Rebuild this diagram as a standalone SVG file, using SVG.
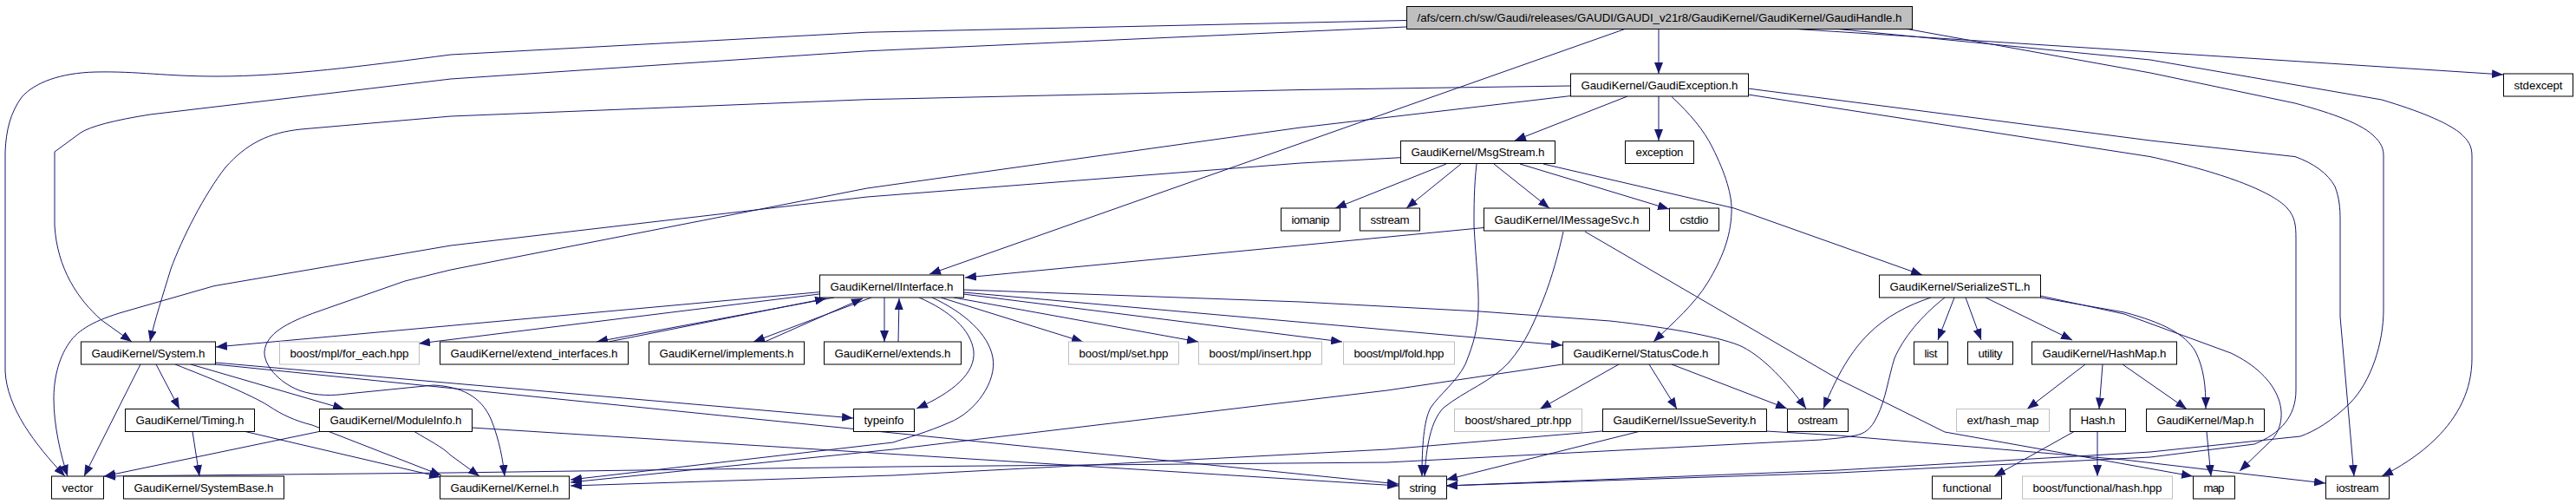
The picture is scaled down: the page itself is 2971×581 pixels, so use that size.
<svg xmlns="http://www.w3.org/2000/svg" width="2971" height="581" viewBox="0 0 2971 581">
<defs>
<marker id="a" markerWidth="13" markerHeight="10" refX="13" refY="5" orient="auto" markerUnits="userSpaceOnUse" viewBox="0 0 13 10"><path d="M0,0 L13,5 L0,10 z" fill="#191970"/></marker>
<style>
.e path{fill:none;stroke:#191970;stroke-width:1;marker-end:url(#a)}
.n rect{fill:#fff;stroke:#000;stroke-width:1}
.n.x rect{stroke:#bfbfbf}
.n.r rect{fill:#bfbfbf}
.n text{font-family:"Liberation Sans",Arial,sans-serif;font-size:13.3px;fill:#000;text-anchor:middle}
</style>
</defs>
<rect width="2971" height="581" fill="#fff"/>
<g class="e" id="edges">
<path d="M1622,23.5 L1000,37.2 L520,63 C420,76 330,88 250,88 C190,88 160,82 110,83 C70,84 40,95 25,112 C12,130 7,150 6,175 L6,428 C8,470 40,512 75,549"/>
<path d="M1622,31 L1000,58.8 L520,91 L173,132 Q110,142 93,153 L63,175 L63,260 C66,310 90,345 117,369 L152,394"/>
<path d="M1874,33.5 L1072,316"/>
<path d="M1913,33.5 L1913,85"/>
<path d="M2072,33.5 L2887,86"/>
<path d="M2120,33.5 L2480,69 L2747,115 C2790,128 2820,140 2837,153 C2847,162 2851,168 2851,180 L2851,413 C2851,450 2835,480 2810,505 C2790,525 2765,540 2747,549"/>
<path d="M2200,33.5 L2480,84 L2647,119 C2680,128 2720,140 2737,156 C2747,165 2749,172 2749,180 L2749,357 C2749,395 2735,440 2710,465 C2690,485 2670,497 2653,503 L2480,521 L2120,542 L1668,560"/>
<path d="M1811,99 L1500,103.5 L1000,114.7 L520,134 L347,149 C310,153 285,165 260,193 C235,225 210,275 197,310 C188,340 178,370 173,394"/>
<path d="M1811,110.6 L1500,147 L1000,217 L520,311 L467,324 L367,359 C330,372 307,385 305,405 C304,420 320,440 345,450 C365,457 385,456 400,454 L500,444 C540,446 558,463 567,485 C576,508 580,530 582,549"/>
<path d="M1877,111 L1747,162"/>
<path d="M1913,111 L1913,162"/>
<path d="M1928,111.5 C1950,132 1965,150 1975,170 C1990,200 1998,225 1997,245 C1996,275 1985,300 1970,325 C1955,350 1930,372 1907,394"/>
<path d="M2016,102 L2480,162 L2647,180.6 C2668,188 2685,200 2693,215 C2698,228 2699,240 2699,253 L2699,365 L2715,549"/>
<path d="M2016,109 L2480,180.6 C2560,198 2620,220 2638,240 C2647,250 2648,260 2648,275 L2648,450 C2648,480 2630,500 2600,512 L2480,527 L2120,545 L1668,560"/>
<path d="M1615,181.7 L1500,188 L1000,227 L520,283 L247,329.6 L143,359.4 C110,369 90,380 80,395 C66,415 62,440 62,460 C62,490 70,525 78,549"/>
<path d="M1668,189 L1540,240"/>
<path d="M1685,189 L1622,240"/>
<path d="M1723,189 L1787,240"/>
<path d="M1753,189 L1925,241"/>
<path d="M1780,189 L2000,240 L2217,317"/>
<path d="M1703,189 C1700,215 1700,240 1700,260 C1702,300 1706,330 1705,357 C1704,380 1700,395 1690,420 C1680,440 1660,455 1650,470 C1642,485 1640,515 1640,549"/>
<path d="M1711,262.5 L1113,320"/>
<path d="M1803,267 C1798,290 1790,320 1780,345 C1770,370 1760,395 1740,418 C1720,440 1690,450 1665,470 C1650,485 1645,515 1643,549"/>
<path d="M1828,267 L2120,437 L2243,498 L2529,549"/>
<path d="M945,336.7 L249,400"/>
<path d="M945,339 L483,396"/>
<path d="M962,343 L688,394"/>
<path d="M702,394 L953,344"/>
<path d="M1005,343 L869,394"/>
<path d="M882,394 L995,344"/>
<path d="M1020,343 L1020,394"/>
<path d="M1036,394 L1037,344"/>
<path d="M1060,343 C1095,358 1120,380 1123,405 C1125,430 1100,452 1057,471"/>
<path d="M1075,343 C1112,360 1140,385 1145,412 C1150,440 1125,475 1095,487 C1070,498 1045,505 1030,510 L658,553"/>
<path d="M1085,343 L1249,394"/>
<path d="M1100,343 L1382,394"/>
<path d="M1111,339 L1548,394"/>
<path d="M1111,337 L1802,398"/>
<path d="M1111,334 L1500,348 L1707,359 L1857,370 C1930,378 1990,390 2010,400 C2035,413 2060,440 2083,471"/>
<path d="M2227,343 C2200,352 2175,365 2155,385 C2135,405 2120,430 2103,471"/>
<path d="M2243,343 C2215,365 2195,390 2185,413 C2178,435 2175,460 2165,480 C2158,495 2150,500 2140,502 C2125,505 2110,506 2100,507 L1600,533 L1030,538 L520,545 L120,549"/>
<path d="M2254,343 L2235,392"/>
<path d="M2267,343 L2285,392"/>
<path d="M2290,343 L2390,392"/>
<path d="M2353,343 L2450,360 C2495,372 2520,385 2532,405 C2542,425 2544,445 2544,471"/>
<path d="M2353,341 L2450,362 L2573,407 C2600,420 2620,438 2628,460 C2635,480 2630,500 2615,512 L2583,543"/>
<path d="M180,420 L207,471.5"/>
<path d="M220,420 L397,471.5"/>
<path d="M162,420 L97,549"/>
<path d="M202,420 C240,435 290,455 310,468 C325,478 340,485 360,490 L509,548"/>
<path d="M248,418 L984,482"/>
<path d="M248,420 L1613,558"/>
<path d="M283,497.5 L508,550"/>
<path d="M222,497.5 L230,549"/>
<path d="M368,497.5 L120,549"/>
<path d="M478,497.5 C495,508 510,515 520,525 L553,549"/>
<path d="M544,493 L1613,560"/>
<path d="M1802,420 L1600,450 L1030,518 L658,556"/>
<path d="M1867,420 L1776,471.5"/>
<path d="M1902,420 L1934,471.5"/>
<path d="M1928,420 L2061,471"/>
<path d="M1848,497 L1600,518 L1030,548 L658,560"/>
<path d="M1890,497.5 L1668,553"/>
<path d="M2037,497 L2120,502 L2450,530 L2577,545 L2682,557"/>
<path d="M2405,420 L2338,471.5"/>
<path d="M2425,420 L2421,471.5"/>
<path d="M2448,420 L2522,471.5"/>
<path d="M2392,497.5 L2300,549"/>
<path d="M2419,497.5 L2419,549"/>
<path d="M2545,497.5 L2550,549"/>
</g>
<g id="n_top" class="n r"><rect x="1622.5" y="7.5" width="583" height="26"/><text x="1914" y="25.3" textLength="559" lengthAdjust="spacing">/afs/cern.ch/sw/Gaudi/releases/GAUDI/GAUDI_v21r8/GaudiKernel/GaudiKernel/GaudiHandle.h</text></g>
<g id="n_gaudiexception" class="n"><rect x="1811.5" y="85" width="205" height="26"/><text x="1914" y="102.8" textLength="181" lengthAdjust="spacing">GaudiKernel/GaudiException.h</text></g>
<g id="n_stdexcept" class="n"><rect x="2887.5" y="85" width="80" height="26"/><text x="2927.5" y="102.8" textLength="56" lengthAdjust="spacing">stdexcept</text></g>
<g id="n_msgstream" class="n"><rect x="1615.5" y="162.5" width="178" height="26"/><text x="1704.5" y="180.3" textLength="154" lengthAdjust="spacing">GaudiKernel/MsgStream.h</text></g>
<g id="n_exception" class="n"><rect x="1874.5" y="162.5" width="79" height="26"/><text x="1914" y="180.3" textLength="55" lengthAdjust="spacing">exception</text></g>
<g id="n_iomanip" class="n"><rect x="1477.5" y="240" width="68" height="26"/><text x="1511.5" y="257.8" textLength="44" lengthAdjust="spacing">iomanip</text></g>
<g id="n_sstream" class="n"><rect x="1568.5" y="240" width="69" height="26"/><text x="1603" y="257.8" textLength="45" lengthAdjust="spacing">sstream</text></g>
<g id="n_imessagesvc" class="n"><rect x="1711.5" y="240" width="191" height="26"/><text x="1807" y="257.8" textLength="167" lengthAdjust="spacing">GaudiKernel/IMessageSvc.h</text></g>
<g id="n_cstdio" class="n"><rect x="1925.5" y="240" width="57" height="26"/><text x="1954" y="257.8" textLength="33" lengthAdjust="spacing">cstdio</text></g>
<g id="n_iinterface" class="n"><rect x="945.5" y="317" width="166" height="26"/><text x="1028.5" y="334.8" textLength="142" lengthAdjust="spacing">GaudiKernel/IInterface.h</text></g>
<g id="n_serializestl" class="n"><rect x="2167.5" y="317" width="186" height="26"/><text x="2260.5" y="334.8" textLength="162" lengthAdjust="spacing">GaudiKernel/SerializeSTL.h</text></g>
<g id="n_system" class="n"><rect x="93.5" y="394" width="155" height="26"/><text x="171" y="411.8" textLength="131" lengthAdjust="spacing">GaudiKernel/System.h</text></g>
<g id="n_foreach" class="n x"><rect x="322.5" y="394" width="161" height="26"/><text x="403" y="411.8" textLength="137" lengthAdjust="spacing">boost/mpl/for_each.hpp</text></g>
<g id="n_extendinterfaces" class="n"><rect x="507.5" y="394" width="217" height="26"/><text x="616" y="411.8" textLength="193" lengthAdjust="spacing">GaudiKernel/extend_interfaces.h</text></g>
<g id="n_implements" class="n"><rect x="748.5" y="394" width="179" height="26"/><text x="838" y="411.8" textLength="155" lengthAdjust="spacing">GaudiKernel/implements.h</text></g>
<g id="n_extends" class="n"><rect x="950.5" y="394" width="158" height="26"/><text x="1029.5" y="411.8" textLength="134" lengthAdjust="spacing">GaudiKernel/extends.h</text></g>
<g id="n_set" class="n x"><rect x="1232.5" y="394" width="127" height="26"/><text x="1296" y="411.8" textLength="103" lengthAdjust="spacing">boost/mpl/set.hpp</text></g>
<g id="n_insert" class="n x"><rect x="1382.5" y="394" width="142" height="26"/><text x="1453.5" y="411.8" textLength="118" lengthAdjust="spacing">boost/mpl/insert.hpp</text></g>
<g id="n_fold" class="n x"><rect x="1549.5" y="394" width="128" height="26"/><text x="1613.5" y="411.8" textLength="104" lengthAdjust="spacing">boost/mpl/fold.hpp</text></g>
<g id="n_statuscode" class="n"><rect x="1802.5" y="394" width="180" height="26"/><text x="1892.5" y="411.8" textLength="156" lengthAdjust="spacing">GaudiKernel/StatusCode.h</text></g>
<g id="n_list" class="n"><rect x="2207.5" y="394" width="39" height="26"/><text x="2227" y="411.8" textLength="15" lengthAdjust="spacing">list</text></g>
<g id="n_utility" class="n"><rect x="2269.5" y="394" width="52" height="26"/><text x="2295.5" y="411.8" textLength="28" lengthAdjust="spacing">utility</text></g>
<g id="n_hashmap" class="n"><rect x="2343.5" y="394" width="167" height="26"/><text x="2427" y="411.8" textLength="143" lengthAdjust="spacing">GaudiKernel/HashMap.h</text></g>
<g id="n_timing" class="n"><rect x="144.5" y="471.5" width="149" height="26"/><text x="219" y="489.3" textLength="125" lengthAdjust="spacing">GaudiKernel/Timing.h</text></g>
<g id="n_moduleinfo" class="n"><rect x="368.5" y="471.5" width="176" height="26"/><text x="456.5" y="489.3" textLength="152" lengthAdjust="spacing">GaudiKernel/ModuleInfo.h</text></g>
<g id="n_typeinfo" class="n"><rect x="984.5" y="471.5" width="70" height="26"/><text x="1019.5" y="489.3" textLength="46" lengthAdjust="spacing">typeinfo</text></g>
<g id="n_sharedptr" class="n x"><rect x="1677.5" y="471.5" width="147" height="26"/><text x="1751" y="489.3" textLength="123" lengthAdjust="spacing">boost/shared_ptr.hpp</text></g>
<g id="n_issueseverity" class="n"><rect x="1848.5" y="471.5" width="189" height="26"/><text x="1943" y="489.3" textLength="165" lengthAdjust="spacing">GaudiKernel/IssueSeverity.h</text></g>
<g id="n_ostream" class="n"><rect x="2061.5" y="471.5" width="70" height="26"/><text x="2096.5" y="489.3" textLength="46" lengthAdjust="spacing">ostream</text></g>
<g id="n_exthashmap" class="n x"><rect x="2256.5" y="471.5" width="107" height="26"/><text x="2310" y="489.3" textLength="83" lengthAdjust="spacing">ext/hash_map</text></g>
<g id="n_hash" class="n"><rect x="2387.5" y="471.5" width="64" height="26"/><text x="2419.5" y="489.3" textLength="40" lengthAdjust="spacing">Hash.h</text></g>
<g id="n_maph" class="n"><rect x="2475.5" y="471.5" width="136" height="26"/><text x="2543.5" y="489.3" textLength="112" lengthAdjust="spacing">GaudiKernel/Map.h</text></g>
<g id="n_vector" class="n"><rect x="59.5" y="549" width="60" height="26"/><text x="89.5" y="566.8" textLength="36" lengthAdjust="spacing">vector</text></g>
<g id="n_systembase" class="n"><rect x="142.5" y="549" width="185" height="26"/><text x="235" y="566.8" textLength="161" lengthAdjust="spacing">GaudiKernel/SystemBase.h</text></g>
<g id="n_kernel" class="n"><rect x="507.5" y="549" width="149" height="26"/><text x="582" y="566.8" textLength="125" lengthAdjust="spacing">GaudiKernel/Kernel.h</text></g>
<g id="n_string" class="n"><rect x="1613.5" y="549" width="55" height="26"/><text x="1641" y="566.8" textLength="31" lengthAdjust="spacing">string</text></g>
<g id="n_functional" class="n"><rect x="2228.5" y="549" width="80" height="26"/><text x="2268.5" y="566.8" textLength="56" lengthAdjust="spacing">functional</text></g>
<g id="n_hashhpp" class="n x"><rect x="2332.5" y="549" width="173" height="26"/><text x="2419" y="566.8" textLength="149" lengthAdjust="spacing">boost/functional/hash.hpp</text></g>
<g id="n_map" class="n"><rect x="2529.5" y="549" width="48" height="26"/><text x="2553.5" y="566.8" textLength="24" lengthAdjust="spacing">map</text></g>
<g id="n_iostream" class="n"><rect x="2682.5" y="549" width="73" height="26"/><text x="2719" y="566.8" textLength="49" lengthAdjust="spacing">iostream</text></g>
</svg>
